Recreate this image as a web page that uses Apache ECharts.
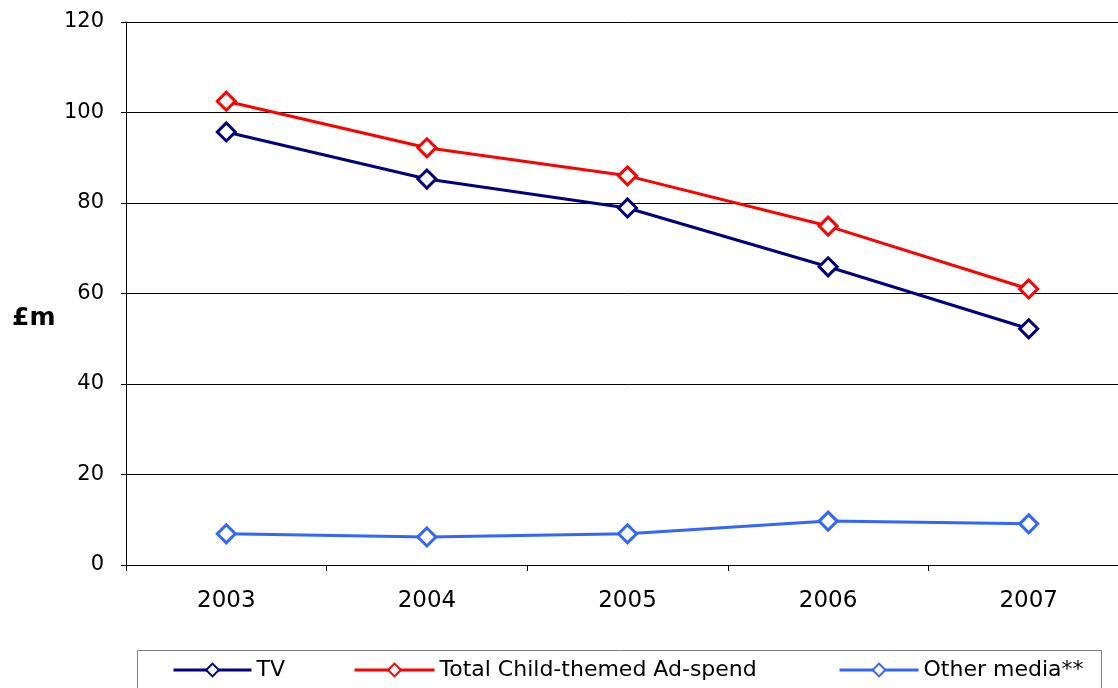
<!DOCTYPE html>
<html>
<head>
<meta charset="utf-8">
<script src="https://cdn.jsdelivr.net/npm/echarts@6/dist/echarts.min.js"></script>
<style>
  html, body { margin: 0; padding: 0; background: #fff; overflow: hidden; }
  #chart { width: 1129px; height: 688px; }
</style>
</head>
<body>
<div id="chart"></div>
<script>
// data
var years = ['2003', '2004', '2005', '2006', '2007'];
var tv = [95.7, 85.3, 78.9, 65.9, 52.2];
var totalChild = [102.5, 92.2, 86.0, 74.9, 61.0];
var otherMedia = [6.9, 6.2, 6.9, 9.7, 9.1];
var seriesNames = ['TV', 'Total Child-themed Ad-spend', 'Other media**'];
var seriesColors = ['#000080', '#ff0000', '#3366ff'];

var font = '"DejaVu Sans", "Liberation Sans", Arial, sans-serif';

function makeSeries(name, data, color) {
  return {
    name: name,
    type: 'line',
    data: data,
    symbol: 'diamond',
    symbolSize: [18, 18],
    lineStyle: { color: color, width: 3 },
    itemStyle: { color: '#fff', borderColor: color, borderWidth: 3 },
    emphasis: { disabled: true },
    z: 3
  };
}

function makeLegend(name, left, w) {
  return {
    data: [name],
    left: left,
    top: 659,
    padding: 0,
    itemWidth: w,
    itemHeight: 16,
    itemGap: 0,
    lineStyle: { width: 3 },
    textStyle: { fontFamily: font, fontSize: 22, color: '#000' }
  };
}

var chart = echarts.init(document.getElementById('chart'));
var option = {
  animation: false,
  backgroundColor: '#fff',
  grid: { left: 126, right: 0, top: 22, bottom: 123 },
  graphic: [
    {
      type: 'rect',
      shape: { x: 137.5, y: 650.5, width: 964, height: 50 },
      style: { fill: '#fff', stroke: '#808080', lineWidth: 1 },
      z: 0
    },
    {
      type: 'text',
      left: 12,
      top: 306,
      style: { text: '£m', font: 'bold 25px ' + font, fill: '#000' }
    }
  ],
  legend: [
    makeLegend(seriesNames[0], 172, 78),
    makeLegend(seriesNames[1], 353, 80),
    makeLegend(seriesNames[2], 838, 79)
  ],
  xAxis: {
    type: 'category',
    data: years,
    boundaryGap: true,
    axisLine: { lineStyle: { color: '#000', width: 1 } },
    axisTick: { show: true, length: 6, lineStyle: { color: '#000' } },
    axisLabel: { fontFamily: font, fontSize: 23, color: '#000', margin: 25 },
    splitLine: { show: false }
  },
  yAxis: {
    type: 'value',
    min: 0,
    max: 120,
    interval: 20,
    axisLine: { show: true, lineStyle: { color: '#000', width: 1 } },
    axisTick: { show: true, length: 5, lineStyle: { color: '#000' } },
    axisLabel: { fontFamily: font, fontSize: 21, color: '#000', margin: 22 },
    splitLine: { show: true, lineStyle: { color: '#000', width: 1 } }
  },
  series: [
    makeSeries(seriesNames[0], tv, seriesColors[0]),
    makeSeries(seriesNames[1], totalChild, seriesColors[1]),
    makeSeries(seriesNames[2], otherMedia, seriesColors[2])
  ]
};
chart.setOption(option);
</script>
</body>
</html>
